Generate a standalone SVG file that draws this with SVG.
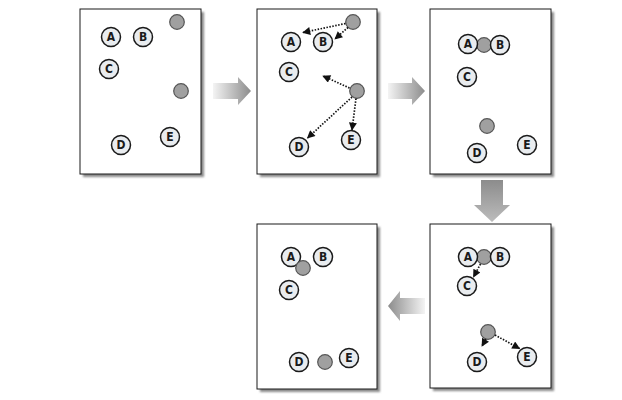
<svg xmlns="http://www.w3.org/2000/svg" width="622" height="400" viewBox="0 0 622 400">
<defs>
<style>
.panel{fill:#fff;stroke:#1a1a1a;stroke-width:1}
.shadow{fill:#8a8a8a;filter:url(#blur)}
.node circle{fill:#e9ecef;stroke:#1a1a1a;stroke-width:1.5}
.node text{font-family:"DejaVu Sans Condensed","Liberation Sans",sans-serif;font-weight:bold;font-size:12px;fill:#1a1a1a;text-anchor:middle;dominant-baseline:central}
.gray circle{fill:#a0a0a0;stroke:#555;stroke-width:1.2}
.dot{fill:none;stroke:#111;stroke-width:1.7;stroke-dasharray:1.5 1.5;marker-end:url(#ah)}
</style>
<filter id="blur" x="-10%" y="-10%" width="120%" height="120%"><feGaussianBlur stdDeviation="1"/></filter>
<marker id="ah" viewBox="0 0 10 10" refX="9" refY="5" markerWidth="9" markerHeight="8" markerUnits="userSpaceOnUse" orient="auto"><path d="M0,0 L10,5 L0,10 z" fill="#111"/></marker>
<linearGradient id="gR" x1="0" y1="0" x2="1" y2="0"><stop offset="0" stop-color="#f4f4f4"/><stop offset="1" stop-color="#8c8c8c"/></linearGradient>
<linearGradient id="gL" x1="1" y1="0" x2="0" y2="0"><stop offset="0" stop-color="#f4f4f4"/><stop offset="1" stop-color="#8c8c8c"/></linearGradient>
<linearGradient id="gD" x1="0" y1="0" x2="0" y2="1"><stop offset="0" stop-color="#8c8c8c"/><stop offset="1" stop-color="#bcbcbc"/></linearGradient>
</defs>

<g id="bigarrows">
<path d="M213,83 L238,83 L238,77 L251,91 L238,105 L238,99 L213,99 z" fill="url(#gR)"/>
<path d="M388,83 L412,83 L412,77 L425,91 L412,105 L412,99 L388,99 z" fill="url(#gR)"/>
<path d="M481,180 L503,180 L503,205 L510,205 L492,222 L474,205 L481,205 z" fill="url(#gD)"/>
<path d="M425,298 L400,298 L400,291 L388,306 L400,321 L400,314 L425,314 z" fill="url(#gL)"/>
</g>

<g id="panel1">
<rect class="shadow" x="83" y="12" width="121" height="165"/>
<rect class="panel" x="80" y="9" width="121" height="165"/>
<g class="node"><circle cx="111" cy="37" r="9.5"/><text x="111" y="37">A</text></g>
<g class="node"><circle cx="143" cy="37" r="9.5"/><text x="143" y="37">B</text></g>
<g class="node"><circle cx="109" cy="69" r="9.5"/><text x="109" y="69">C</text></g>
<g class="node"><circle cx="121" cy="145" r="9.5"/><text x="121" y="145">D</text></g>
<g class="node"><circle cx="170" cy="137" r="9.5"/><text x="170" y="137">E</text></g>
<g class="gray"><circle cx="177" cy="22" r="7.3"/></g>
<g class="gray"><circle cx="181" cy="91" r="7.3"/></g>
</g>

<g id="panel2">
<rect class="shadow" x="260" y="12" width="120" height="165"/>
<rect class="panel" x="257" y="9" width="120" height="165"/>
<g class="node"><circle cx="291" cy="42" r="9.5"/><text x="291" y="42">A</text></g>
<g class="node"><circle cx="323" cy="42" r="9.5"/><text x="323" y="42">B</text></g>
<g class="node"><circle cx="289" cy="72" r="9.5"/><text x="289" y="72">C</text></g>
<g class="node"><circle cx="299" cy="147" r="9.5"/><text x="299" y="147">D</text></g>
<g class="node"><circle cx="351" cy="140" r="9.5"/><text x="351" y="140">E</text></g>
<g class="gray"><circle cx="353" cy="22" r="7.3"/></g>
<g class="gray"><circle cx="357" cy="91" r="7.3"/></g>
</g>

<g id="panel3">
<rect class="shadow" x="433" y="12" width="121" height="165"/>
<rect class="panel" x="430" y="9" width="121" height="165"/>
<g class="gray"><circle cx="484" cy="45" r="7.3"/></g>
<g class="node"><circle cx="468" cy="44" r="9.5"/><text x="468" y="44">A</text></g>
<g class="node"><circle cx="500" cy="45" r="9.5"/><text x="500" y="45">B</text></g>
<g class="node"><circle cx="467" cy="77" r="9.5"/><text x="467" y="77">C</text></g>
<g class="node"><circle cx="477" cy="153" r="9.5"/><text x="477" y="153">D</text></g>
<g class="node"><circle cx="527" cy="145" r="9.5"/><text x="527" y="145">E</text></g>
<g class="gray"><circle cx="487" cy="126" r="7.3"/></g>
</g>

<g id="panel4">
<rect class="shadow" x="433" y="227" width="121" height="164"/>
<rect class="panel" x="430" y="224" width="121" height="164"/>
<g class="gray"><circle cx="484" cy="257" r="7.3"/></g>
<g class="node"><circle cx="468" cy="257" r="9.5"/><text x="468" y="257">A</text></g>
<g class="node"><circle cx="500" cy="257" r="9.5"/><text x="500" y="257">B</text></g>
<g class="node"><circle cx="467" cy="286" r="9.5"/><text x="467" y="286">C</text></g>
<g class="node"><circle cx="477" cy="362" r="9.5"/><text x="477" y="362">D</text></g>
<g class="node"><circle cx="527" cy="357" r="9.5"/><text x="527" y="357">E</text></g>
<g class="gray"><circle cx="488" cy="332" r="7.3"/></g>
</g>

<g id="panel5">
<rect class="shadow" x="260" y="227" width="120" height="165"/>
<rect class="panel" x="257" y="224" width="120" height="165"/>
<g class="node"><circle cx="291" cy="257" r="9.5"/><text x="291" y="257">A</text></g>
<g class="node"><circle cx="323" cy="257" r="9.5"/><text x="323" y="257">B</text></g>
<g class="node"><circle cx="289" cy="290" r="9.5"/><text x="289" y="290">C</text></g>
<g class="node"><circle cx="299" cy="362" r="9.5"/><text x="299" y="362">D</text></g>
<g class="node"><circle cx="349" cy="358" r="9.5"/><text x="349" y="358">E</text></g>
<g class="gray"><circle cx="303" cy="268" r="7.3"/></g>
<g class="gray"><circle cx="325" cy="362" r="7.3"/></g>
</g>

<g id="connectors">
<line class="dot" x1="345.5" y1="23.5" x2="303" y2="32.5"/>
<line class="dot" x1="348" y1="27.5" x2="335" y2="39"/>
<line class="dot" x1="349.5" y1="88" x2="323" y2="76"/>
<line class="dot" x1="352" y1="97" x2="307.5" y2="138"/>
<line class="dot" x1="356" y1="98.5" x2="352" y2="130"/>
<line class="dot" x1="480.5" y1="264" x2="473.5" y2="277"/>
<line class="dot" x1="486" y1="339" x2="482" y2="346"/>
<line class="dot" x1="495" y1="335" x2="519.5" y2="348.5"/>
</g>
</svg>
